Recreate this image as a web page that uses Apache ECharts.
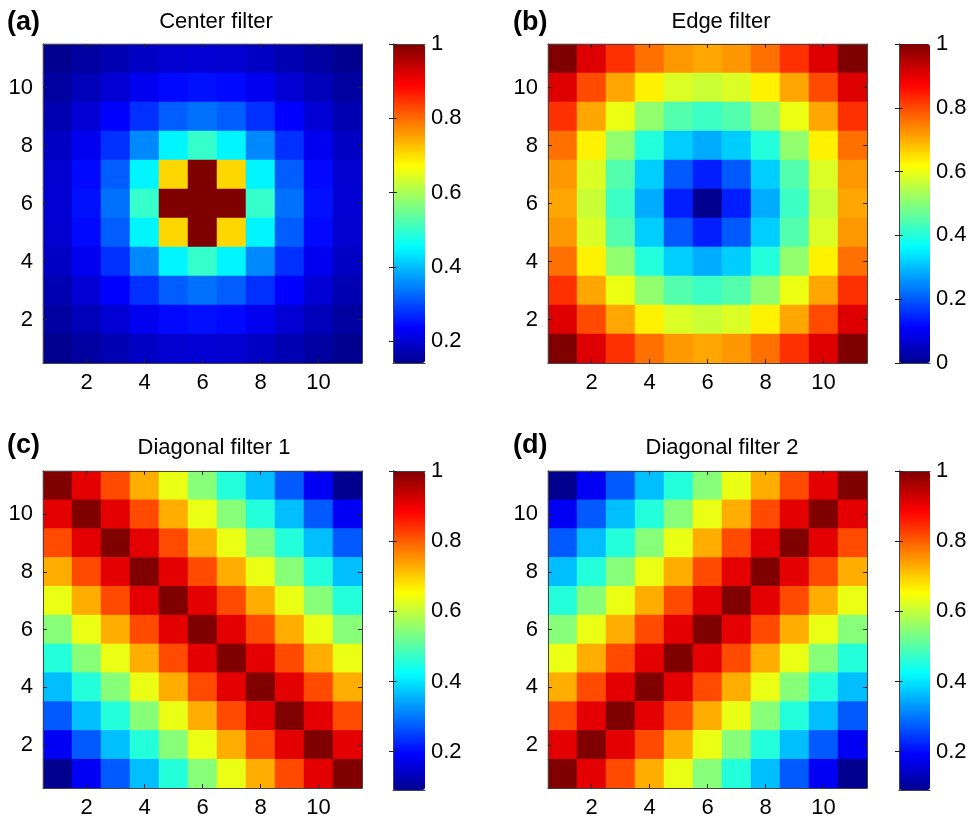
<!DOCTYPE html>
<html>
<head>
<meta charset="utf-8">
<script src="https://cdn.jsdelivr.net/npm/echarts@6/dist/echarts.min.js"></script>
<style>html,body{margin:0;padding:0;background:#fff}#chart{width:971px;height:819px}</style>
</head>
<body>
<div id="chart"></div>
<script>
// ---------- data ----------
const xCategories = ['1','2','3','4','5','6','7','8','9','10','11'];
const yCategories = ['1','2','3','4','5','6','7','8','9','10','11'];
const axisTickLabels = ['2','4','6','8','10'];
const panelLabels = ['(a)','(b)','(c)','(d)'];
const panelTitles = ['Center filter','Edge filter','Diagonal filter 1','Diagonal filter 2'];
const colorbarTicksA = [0.2,0.4,0.6,0.8,1];
const colorbarTicksB = [0,0.2,0.4,0.6,0.8,1];
const colorbarTicksC = [0.2,0.4,0.6,0.8,1];
const colorbarTicksD = [0.2,0.4,0.6,0.8,1];

// rows listed from top (y = 11) to bottom (y = 1), columns x = 1..11
const centerFilter = [
  [0.141,0.156,0.171,0.186,0.196,0.200,0.196,0.186,0.171,0.156,0.141],
  [0.156,0.177,0.200,0.224,0.243,0.250,0.243,0.224,0.200,0.177,0.156],
  [0.171,0.200,0.236,0.277,0.316,0.333,0.316,0.277,0.236,0.200,0.171],
  [0.186,0.224,0.277,0.354,0.447,0.500,0.447,0.354,0.277,0.224,0.186],
  [0.196,0.243,0.316,0.447,0.707,1.000,0.707,0.447,0.316,0.243,0.196],
  [0.200,0.250,0.333,0.500,1.000,1.000,1.000,0.500,0.333,0.250,0.200],
  [0.196,0.243,0.316,0.447,0.707,1.000,0.707,0.447,0.316,0.243,0.196],
  [0.186,0.224,0.277,0.354,0.447,0.500,0.447,0.354,0.277,0.224,0.186],
  [0.171,0.200,0.236,0.277,0.316,0.333,0.316,0.277,0.236,0.200,0.171],
  [0.156,0.177,0.200,0.224,0.243,0.250,0.243,0.224,0.200,0.177,0.156],
  [0.141,0.156,0.171,0.186,0.196,0.200,0.196,0.186,0.171,0.156,0.141]
];
const edgeFilter = [
  [1.000,0.906,0.825,0.762,0.721,0.707,0.721,0.762,0.825,0.906,1.000],
  [0.906,0.800,0.707,0.632,0.583,0.566,0.583,0.632,0.707,0.800,0.906],
  [0.825,0.707,0.600,0.510,0.447,0.424,0.447,0.510,0.600,0.707,0.825],
  [0.762,0.632,0.510,0.400,0.316,0.283,0.316,0.400,0.510,0.632,0.762],
  [0.721,0.583,0.447,0.316,0.200,0.141,0.200,0.316,0.447,0.583,0.721],
  [0.707,0.566,0.424,0.283,0.141,0.000,0.141,0.283,0.424,0.566,0.707],
  [0.721,0.583,0.447,0.316,0.200,0.141,0.200,0.316,0.447,0.583,0.721],
  [0.762,0.632,0.510,0.400,0.316,0.283,0.316,0.400,0.510,0.632,0.762],
  [0.825,0.707,0.600,0.510,0.447,0.424,0.447,0.510,0.600,0.707,0.825],
  [0.906,0.800,0.707,0.632,0.583,0.566,0.583,0.632,0.707,0.800,0.906],
  [1.000,0.906,0.825,0.762,0.721,0.707,0.721,0.762,0.825,0.906,1.000]
];
const diagonalFilter1 = [
  [1.000,0.909,0.818,0.727,0.636,0.545,0.455,0.364,0.273,0.182,0.091],
  [0.909,1.000,0.909,0.818,0.727,0.636,0.545,0.455,0.364,0.273,0.182],
  [0.818,0.909,1.000,0.909,0.818,0.727,0.636,0.545,0.455,0.364,0.273],
  [0.727,0.818,0.909,1.000,0.909,0.818,0.727,0.636,0.545,0.455,0.364],
  [0.636,0.727,0.818,0.909,1.000,0.909,0.818,0.727,0.636,0.545,0.455],
  [0.545,0.636,0.727,0.818,0.909,1.000,0.909,0.818,0.727,0.636,0.545],
  [0.455,0.545,0.636,0.727,0.818,0.909,1.000,0.909,0.818,0.727,0.636],
  [0.364,0.455,0.545,0.636,0.727,0.818,0.909,1.000,0.909,0.818,0.727],
  [0.273,0.364,0.455,0.545,0.636,0.727,0.818,0.909,1.000,0.909,0.818],
  [0.182,0.273,0.364,0.455,0.545,0.636,0.727,0.818,0.909,1.000,0.909],
  [0.091,0.182,0.273,0.364,0.455,0.545,0.636,0.727,0.818,0.909,1.000]
];
const diagonalFilter2 = [
  [0.091,0.182,0.273,0.364,0.455,0.545,0.636,0.727,0.818,0.909,1.000],
  [0.182,0.273,0.364,0.455,0.545,0.636,0.727,0.818,0.909,1.000,0.909],
  [0.273,0.364,0.455,0.545,0.636,0.727,0.818,0.909,1.000,0.909,0.818],
  [0.364,0.455,0.545,0.636,0.727,0.818,0.909,1.000,0.909,0.818,0.727],
  [0.455,0.545,0.636,0.727,0.818,0.909,1.000,0.909,0.818,0.727,0.636],
  [0.545,0.636,0.727,0.818,0.909,1.000,0.909,0.818,0.727,0.636,0.545],
  [0.636,0.727,0.818,0.909,1.000,0.909,0.818,0.727,0.636,0.545,0.455],
  [0.727,0.818,0.909,1.000,0.909,0.818,0.727,0.636,0.545,0.455,0.364],
  [0.818,0.909,1.000,0.909,0.818,0.727,0.636,0.545,0.455,0.364,0.273],
  [0.909,1.000,0.909,0.818,0.727,0.636,0.545,0.455,0.364,0.273,0.182],
  [1.000,0.909,0.818,0.727,0.636,0.545,0.455,0.364,0.273,0.182,0.091]
];

// ---------- colormap: MATLAB jet(64) ----------
function jetColormap(m) {
  const n = Math.ceil(m / 4);
  const u = [];
  for (let k = 1; k <= n; k++) u.push(k / n);
  for (let k = 1; k <= n - 1; k++) u.push(1);
  for (let k = n; k >= 1; k--) u.push(k / n);
  const g0 = Math.ceil(n / 2) - (m % 4 === 1 ? 1 : 0);
  const rgb = [];
  for (let i = 0; i < m; i++) rgb.push([0, 0, 0]);
  for (let j = 0; j < u.length; j++) {
    const gi = g0 + j, ri = gi + n, bi = gi - n; // zero-based indices
    if (gi >= 0 && gi < m) rgb[gi][1] = u[j];
    if (ri >= 0 && ri < m) rgb[ri][0] = u[j];
    if (bi >= 0 && bi < m) rgb[bi][2] = u[j];
  }
  return rgb.map(function (c) {
    return 'rgb(' + Math.round(c[0] * 255) + ',' + Math.round(c[1] * 255) + ',' + Math.round(c[2] * 255) + ')';
  });
}
const jet = jetColormap(64);

// ---------- style / layout ----------
const FONT = '"Liberation Sans", Arial, Helvetica, sans-serif';
const FS = 22;
const AXIS_COLOR = '#444';

const panels = [
  {matrix: centerFilter,    ticks: colorbarTicksA, grid: {left: 43,  top: 44,  width: 319, height: 319}, cb: {left: 393, top: 44,  width: 32, height: 319}, labelPos: [7, 23],    titlePos: [216, 22]},
  {matrix: edgeFilter,      ticks: colorbarTicksB, grid: {left: 548, top: 44,  width: 319, height: 319}, cb: {left: 899, top: 44,  width: 31, height: 319}, labelPos: [513, 23],  titlePos: [721, 22]},
  {matrix: diagonalFilter1, ticks: colorbarTicksC, grid: {left: 43,  top: 471, width: 319, height: 319}, cb: {left: 393, top: 471, width: 32, height: 319}, labelPos: [7, 446],   titlePos: [214, 448]},
  {matrix: diagonalFilter2, ticks: colorbarTicksD, grid: {left: 548, top: 471, width: 319, height: 319}, cb: {left: 899, top: 471, width: 31, height: 319}, labelPos: [513, 446], titlePos: [722, 448]}
];

const evenOnly = function (index, value) { return axisTickLabels.indexOf(String(value)) >= 0; };

const grid = [], xAxis = [], yAxis = [], series = [], visualMap = [], graphic = [];

panels.forEach(function (p, i) {
  const m = p.matrix;
  let vmin = Infinity, vmax = -Infinity;
  const data = [];
  for (let r = 0; r < m.length; r++) {
    for (let c = 0; c < m[r].length; c++) {
      const v = m[r][c];
      vmin = Math.min(vmin, v); vmax = Math.max(vmax, v);
      data.push([c, m.length - 1 - r, v]);
    }
  }

  grid.push(Object.assign({containLabel: false}, p.grid));
  grid.push(Object.assign({containLabel: false}, p.cb));
  const gh = 2 * i, gc = 2 * i + 1;

  const catAxisCommon = {
    type: 'category',
    boundaryGap: true,
    z: 5,
    axisLine: {show: true, lineStyle: {color: AXIS_COLOR, width: 1}},
    axisTick: {show: true, inside: true, length: 4, alignWithLabel: true, interval: evenOnly, lineStyle: {color: '#222'}},
    splitLine: {show: false}
  };
  xAxis.push(Object.assign({}, catAxisCommon, {
    gridIndex: gh, position: 'bottom', data: xCategories,
    axisLabel: {show: true, interval: evenOnly, color: '#000', fontSize: FS, fontFamily: FONT, margin: 9}
  }));
  xAxis.push(Object.assign({}, catAxisCommon, {
    gridIndex: gh, position: 'top', data: xCategories, axisLabel: {show: false}
  }));
  yAxis.push(Object.assign({}, catAxisCommon, {
    gridIndex: gh, position: 'left', data: yCategories,
    axisLabel: {show: true, interval: evenOnly, color: '#000', fontSize: FS, fontFamily: FONT, margin: 10}
  }));
  yAxis.push(Object.assign({}, catAxisCommon, {
    gridIndex: gh, position: 'right', data: yCategories, axisLabel: {show: false}
  }));

  const valFrame = {
    type: 'value', min: 0, max: 1, z: 5,
    axisLine: {show: true, lineStyle: {color: AXIS_COLOR, width: 1}},
    axisTick: {show: false}, axisLabel: {show: false}, splitLine: {show: false}
  };
  xAxis.push(Object.assign({}, valFrame, {gridIndex: gc, position: 'bottom'}));
  xAxis.push(Object.assign({}, valFrame, {gridIndex: gc, position: 'top'}));
  yAxis.push({
    type: 'value', gridIndex: gc, position: 'right', min: vmin, max: vmax, z: 5,
    axisLine: {show: true, lineStyle: {color: AXIS_COLOR, width: 1}},
    axisTick: {show: true, inside: true, length: 4, customValues: p.ticks, lineStyle: {color: '#222'}},
    axisLabel: {show: true, customValues: p.ticks, color: '#000', fontSize: FS, fontFamily: FONT, margin: 6,
                formatter: function (v) { return String(Math.round(v * 10) / 10); }},
    splitLine: {show: false}
  });
  yAxis.push({
    type: 'value', gridIndex: gc, position: 'left', min: vmin, max: vmax, z: 5,
    axisLine: {show: true, lineStyle: {color: AXIS_COLOR, width: 1}},
    axisTick: {show: true, inside: true, length: 4, customValues: p.ticks, lineStyle: {color: '#222'}},
    axisLabel: {show: false}, splitLine: {show: false}
  });

  series.push({
    type: 'heatmap',
    name: panelTitles[i],
    xAxisIndex: 4 * i,
    yAxisIndex: 4 * i,
    data: data,
    itemStyle: {borderWidth: 0},
    emphasis: {disabled: true},
    z: 1
  });

  visualMap.push({
    type: 'continuous',
    seriesIndex: i,
    dimension: 2,
    min: vmin, max: vmax,
    calculable: false,
    hoverLink: false,
    orient: 'vertical',
    left: p.cb.left, top: p.cb.top,
    itemWidth: p.cb.width, itemHeight: p.cb.height,
    padding: 0,
    text: null,
    inRange: {color: jet},
    z: 1
  });

  graphic.push({
    type: 'text', x: p.labelPos[0], y: p.labelPos[1],
    style: {text: panelLabels[i], font: 'bold 27px ' + FONT, fill: '#000', align: 'left', verticalAlign: 'middle'}
  });
  graphic.push({
    type: 'text', x: p.titlePos[0], y: p.titlePos[1],
    style: {text: panelTitles[i], font: FS + 'px ' + FONT, fill: '#000', align: 'center', verticalAlign: 'middle'}
  });
});

const chart = echarts.init(document.getElementById('chart'), null, {renderer: 'canvas'});
chart.setOption({
  backgroundColor: '#fff',
  animation: false,
  grid: grid,
  xAxis: xAxis,
  yAxis: yAxis,
  visualMap: visualMap,
  series: series,
  graphic: graphic
});
</script>
</body>
</html>
